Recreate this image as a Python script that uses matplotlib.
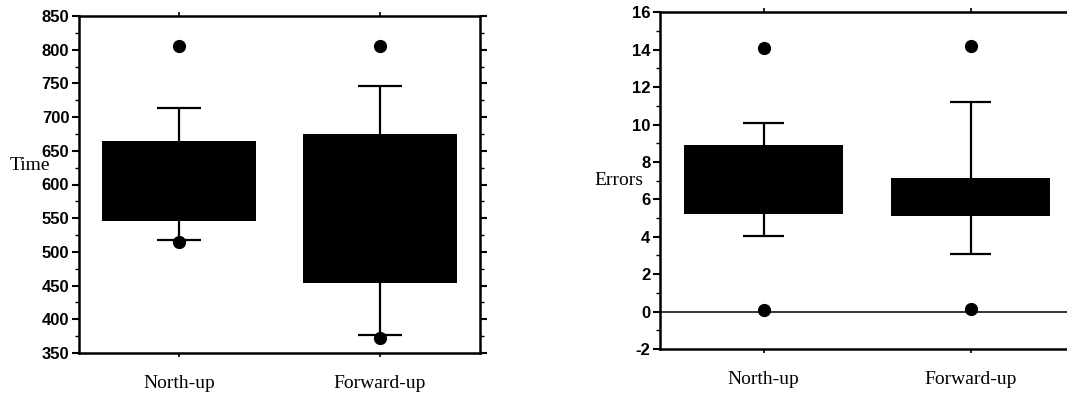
import matplotlib
matplotlib.use('Agg')
import matplotlib.pyplot as plt
from matplotlib.ticker import MultipleLocator

plt.rcParams['axes.unicode_minus'] = False

cats = ['North-up', 'Forward-up']

# Time panel
time_q1 = [546, 454]
time_q3 = [665, 675]
time_lo = [518, 377]
time_hi = [714, 746]
time_out = [[805, 515], [806, 372]]

# Errors panel
err_q1 = [5.22, 5.12]
err_q3 = [8.88, 7.13]
err_lo = [4.02, 3.1]
err_hi = [10.07, 11.2]
err_out = [[14.1, 0.1], [14.2, 0.15]]

W, H = 1067, 396
fig = plt.figure(figsize=(W / 100, H / 100), dpi=100)

tick_font = {'family': ['Liberation Sans Narrow', 'Liberation Sans'], 'weight': 'bold', 'size': 12}
serif = ['Liberation Serif', 'DejaVu Serif']


def boxes(ax, q1, q3, lo, hi, out, capw):
    pos = list(range(1, len(cats) + 1))
    ax.vlines(pos, lo, hi, color='black', lw=1.6, zorder=1)
    for p, l, h in zip(pos, lo, hi):
        ax.hlines([l, h], p - capw / 2, p + capw / 2, color='black', lw=1.6, zorder=1)
    ax.bar(pos, [b - a for a, b in zip(q1, q3)], bottom=q1, width=0.77,
           color='black', zorder=2)
    for p, o in zip(pos, out):
        ax.plot([p] * len(o), o, 'o', color='black', ms=8.5, zorder=3)
    ax.set_xlim(0.5, 2.5)
    ax.set_xticks(pos)
    ax.set_xticklabels(cats, family=serif, size=14)
    ax.tick_params(axis='x', which='both', top=True, direction='out', length=3, width=1.2, pad=13)
    ax.tick_params(axis='y', which='major', direction='out', length=5, width=1.5, pad=2)
    ax.tick_params(axis='y', which='minor', direction='out', length=3, width=1)
    for lab in ax.get_yticklabels():
        lab.set_fontproperties(matplotlib.font_manager.FontProperties(**tick_font))
    for s in ax.spines.values():
        s.set_linewidth(1.8)


# left: Time
ax1 = fig.add_axes([79 / W, 43 / H, 401 / W, 337 / H])
ax1.set_ylim(350, 850)
ax1.yaxis.set_major_locator(MultipleLocator(50))
ax1.yaxis.set_minor_locator(MultipleLocator(25))
ax1.tick_params(axis='y', which='both', right=True)
boxes(ax1, time_q1, time_q3, time_lo, time_hi, time_out, 0.22)
fig.text(30 / W, 1 - 166 / H, 'Time', family=serif, size=14, ha='center', va='center')

# right: Errors
ax2 = fig.add_axes([660 / W, 47 / H, 414 / W, 336.7 / H])
ax2.set_ylim(-2, 16)
ax2.yaxis.set_major_locator(MultipleLocator(2))
ax2.yaxis.set_minor_locator(MultipleLocator(1))
ax2.axhline(0, color='black', lw=1.1, zorder=0)
boxes(ax2, err_q1, err_q3, err_lo, err_hi, err_out, 0.2)
fig.text(619 / W, 1 - 180 / H, 'Errors', family=serif, size=14, ha='center', va='center')

fig.savefig('out.png', dpi=100)
